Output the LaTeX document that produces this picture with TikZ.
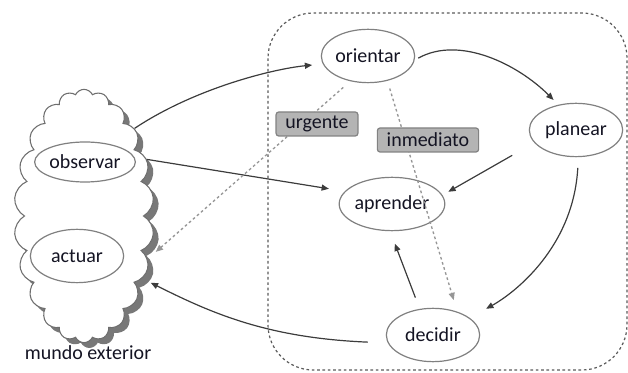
\documentclass[tikz,border=0pt]{standalone}
\usepackage{fontspec}
\setmainfont{Carlito}
\usetikzlibrary{shapes.geometric,shapes.symbols,shadows,arrows.meta}

\tikzset{every picture/.style={line width=0.75pt}}
\tikzset{
  phase/.style={ellipse, draw={rgb, 255:red, 128; green, 128; blue, 128}, fill=white, line width=0.9pt, inner sep=0pt, minimum width=70pt, minimum height=40pt, text={rgb, 255:red, 20; green, 20; blue, 35}, font=\fontsize{15}{18}\selectfont},
  world/.style={cloud, cloud puffs=22, cloud puff arc=130, cloud ignores aspect, draw={rgb, 255:red, 110; green, 110; blue, 110}, fill=white, line width=0.8pt, inner sep=0pt, minimum width=105pt, minimum height=190pt, drop shadow={shadow xshift=4pt, shadow yshift=-4pt, fill={rgb, 255:red, 120; green, 120; blue, 120}, opacity=1}},
  tag/.style={draw={rgb, 255:red, 130; green, 130; blue, 130}, fill={rgb, 255:red, 180; green, 180; blue, 180}, rounded corners=2pt, inner xsep=7pt, inner ysep=0pt, minimum height=18pt, line width=0.9pt, text={rgb, 255:red, 20; green, 20; blue, 35}, font=\fontsize{15}{18}\selectfont},
  flow/.style={draw={rgb, 255:red, 60; green, 60; blue, 60}, line width=0.9pt, -{Triangle[length=5.5pt,width=4.5pt]}},
  hint/.style={draw={rgb, 255:red, 150; green, 150; blue, 150}, line width=1pt, dash pattern=on 2pt off 2pt, -{Triangle[length=5.5pt,width=4.5pt]}},
  frame/.style={draw={rgb, 255:red, 90; green, 90; blue, 90}, line width=0.9pt, dash pattern=on 2pt off 2pt, rounded corners=34pt}
}

\begin{document}
\begin{tikzpicture}[x=0.75pt,y=0.75pt,yscale=-1,xscale=1]
\useasboundingbox (0,0) rectangle (628,373);

%Rounded Rect
\draw [frame] (268,13) rectangle (627,370);

%Shape: Cloud
\draw (84,216) node [world] (world) {};

%Shape: Ellipse
\draw (85,162) node [phase, minimum width=72pt, minimum height=30pt] (observar) {observar};
%Shape: Ellipse
\draw (77,256) node [phase] (actuar) {actuar};
%Shape: Ellipse
\draw (368,56) node [phase] (orientar) {orientar};
%Shape: Ellipse
\draw (576,130) node [phase] (planear) {planear};
%Shape: Ellipse
\draw (392,204) node [phase] (aprender) {aprender};
%Shape: Ellipse
\draw (433,335) node [phase] (decidir) {decidir};

%Curve Lines
\draw [flow, shorten >=8pt] (world.60) .. controls +(60,-40) and +(-50,5) .. (orientar.190);
%Straight Lines
\draw [flow, shorten >=12pt] (world.42) -- (aprender.165);
%Straight Lines
\draw [hint, shorten <=7pt, shorten >=8pt] (orientar.235) -- (world.-34);
%Straight Lines
\draw [hint, shorten <=6pt, shorten >=9pt] (orientar.-52) -- (decidir.44);
%Curve Lines
\draw [flow, shorten <=3pt, shorten >=5pt] (orientar.-5) .. controls +(45,-25) and +(-40,-40) .. (planear.125);
%Straight Lines
\draw [flow, shorten <=19pt, shorten >=5pt] (planear.197) -- (aprender.10);
%Curve Lines
\draw [flow, shorten <=8pt, shorten >=14pt] (planear.-85) .. controls +(-5,90) and +(45,-25) .. (decidir.25);
%Straight Lines
\draw [flow, shorten <=9pt, shorten >=10pt] (decidir.117) -- (aprender.266);
%Curve Lines
\draw [flow, shorten <=15pt, shorten >=7pt] (decidir.190) .. controls +(-120,-5) and +(70,35) .. (world.-47);

% Text Node
\draw (317,124) node [tag] (urgente) {urgente};
% Text Node
\draw (428,140) node [tag] (inmediato) {inmediato};
% Text Node
\draw (88,353) node [inner sep=0.75pt, text={rgb, 255:red, 20; green, 20; blue, 35}, font=\fontsize{15}{18}\selectfont] (mundo) {mundo exterior};

\end{tikzpicture}
\end{document}
